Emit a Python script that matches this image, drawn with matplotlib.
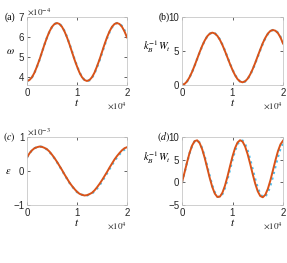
import numpy as np
import matplotlib
matplotlib.use('Agg')
import matplotlib.pyplot as plt

plt.rcParams['font.family'] = 'Liberation Sans'
plt.rcParams['mathtext.fontset'] = 'stix'

# time axis (x 1e4), step 500
t = np.arange(0, 20001, 500) / 1e4

# (a) omega, x 1e-4
omega_fit = [3.80, 3.85, 3.99, 4.22, 4.53, 4.87, 5.25, 5.63, 5.98, 6.28, 6.51, 6.65, 6.70,
             6.65, 6.51, 6.28, 5.98, 5.63, 5.25, 4.87, 4.53, 4.22, 3.99, 3.85, 3.80,
             3.85, 3.99, 4.22, 4.53, 4.87, 5.25, 5.63, 5.98, 6.28, 6.51, 6.65, 6.70,
             6.65, 6.51, 6.28, 5.98]
omega_sim = [3.80, 3.85, 3.98, 4.21, 4.52, 4.86, 5.24, 5.62, 5.97, 6.27, 6.50, 6.65, 6.70,
             6.66, 6.53, 6.30, 6.01, 5.66, 5.28, 4.90, 4.55, 4.24, 4.00, 3.85, 3.80,
             3.83, 3.96, 4.18, 4.48, 4.82, 5.19, 5.57, 5.93, 6.24, 6.48, 6.64, 6.70,
             6.67, 6.55, 6.34, 6.05]

# (b) work / kB
work_fit = [0.00, 0.15, 0.53, 1.15, 1.94, 2.86, 3.85, 4.84, 5.76, 6.55, 7.17, 7.55, 7.70,
            7.58, 7.23, 6.65, 5.89, 5.00, 4.05, 3.09, 2.21, 1.45, 0.86, 0.51, 0.40,
            0.54, 0.93, 1.55, 2.34, 3.26, 4.25, 5.23, 6.16, 6.94, 7.56, 7.95, 8.09,
            7.98, 7.63, 7.00, 6.10]
work_sim = [0.00, 0.15, 0.52, 1.13, 1.91, 2.83, 3.81, 4.80, 5.72, 6.52, 7.15, 7.54, 7.70,
            7.60, 7.27, 6.70, 5.95, 5.07, 4.12, 3.16, 2.27, 1.50, 0.90, 0.53, 0.40,
            0.51, 0.88, 1.48, 2.26, 3.17, 4.15, 5.13, 6.07, 6.87, 7.50, 7.92, 8.09,
            8.01, 7.70, 7.10, 6.25]

# (c) epsilon, x 1e-3
eps_fit = [0.40, 0.52, 0.61, 0.67, 0.70, 0.72, 0.71, 0.68, 0.64, 0.57, 0.48, 0.38, 0.27,
           0.15, 0.03, -0.10, -0.22, -0.34, -0.44, -0.53, -0.61, -0.67, -0.70, -0.72, -0.71,
           -0.68, -0.64, -0.57, -0.48, -0.38, -0.27, -0.15, -0.03, 0.10, 0.22, 0.34, 0.44,
           0.53, 0.61, 0.67, 0.70]
eps_sim = [0.40, 0.52, 0.61, 0.67, 0.70, 0.72, 0.71, 0.68, 0.63, 0.56, 0.47, 0.37, 0.26,
           0.14, 0.02, -0.11, -0.23, -0.35, -0.45, -0.54, -0.62, -0.67, -0.70, -0.71, -0.72,
           -0.69, -0.66, -0.60, -0.52, -0.42, -0.31, -0.19, -0.07, 0.06, 0.18, 0.30, 0.40,
           0.49, 0.57, 0.63, 0.67]

# (d) work / kB
work2_fit = [0.00, 2.16, 4.42, 6.50, 8.12, 9.09, 9.27, 8.64, 7.29, 5.38, 3.16, 0.93, -1.04,
             -2.49, -3.23, -3.16, -2.30, -0.77, 1.26, 3.52, 5.70, 7.54, 8.79, 9.29, 8.98,
             7.90, 6.20, 4.07, 1.81, -0.30, -1.98, -3.02, -3.29, -2.74, -1.45, 0.42, 2.62,
             4.86, 6.87, 8.38, 9.19]
work2_sim = [0.00, 2.12, 4.34, 6.40, 8.03, 9.04, 9.29, 8.76, 7.51, 5.69, 3.55, 1.34, -0.68,
             -2.22, -3.12, -3.26, -2.61, -1.27, 0.61, 2.79, 4.99, 6.94, 8.41, 9.19, 9.21,
             8.45, 7.01, 5.07, 2.88, 0.69, -1.20, -2.57, -3.24, -3.14, -2.27, -0.75, 1.24,
             3.46, 5.61, 7.44, 8.72]

blue = '#4dbeee'
orange = '#d95319'
W, H = 287, 263

fig = plt.figure(figsize=(W / 100, H / 100), dpi=100)


def make_axes(x0, x1, y0, y1):
    return fig.add_axes([x0 / W, 1 - y1 / H, (x1 - x0) / W, (y1 - y0) / H])


# axes, sim, fit, ylim, yticks, tag, y-label, label pos, y exponent
panels = [
    (make_axes(27, 127, 17, 85), omega_sim, omega_fit, (3.6, 7.0), [4, 5, 6, 7],
     '(a)', r'$\omega$', (-0.12, 0.50), r'$\times10^{-4}$'),
    (make_axes(182, 283, 17, 85), work_sim, work_fit, (0, 10), [0, 5, 10],
     '(b)', r'$k_B^{-1}W_t$', (-0.11, 0.56), None),
    (make_axes(27, 127, 137, 205), eps_sim, eps_fit, (-1, 1), [-1, 0, 1],
     r'$(c)$', r'$\varepsilon$', (-0.16, 0.50), r'$\times10^{-3}$'),
    (make_axes(182, 283, 137, 205), work2_sim, work2_fit, (-5, 10), [-5, 0, 5, 10],
     r'$(d)$', r'$k_B^{-1}W_t$', (-0.11, 0.70), None),
]

for ax, sim, fit, ylim, yt, tag, ylab, lpos, yexp in panels:
    ax.plot(t, sim, ':', color=blue, lw=1.6)
    ax.plot(t, fit, '-', color=orange, lw=1.4)
    ax.set_xlim(0, 2)
    ax.set_ylim(*ylim)
    ax.set_xticks([0, 1, 2])
    ax.set_yticks(yt)
    ax.tick_params(direction='in', length=2, width=0.5, labelsize=7,
                   colors='#262626', pad=2, top=True, right=True)
    for s in ax.spines.values():
        s.set_color('#c8c8c8')
        s.set_linewidth(0.6)
    ax.text(0.5, -0.17, r'$t$', transform=ax.transAxes, ha='center', va='top', fontsize=8)
    ax.text(1.0, -0.22, r'$\times10^{4}$', transform=ax.transAxes, ha='right', va='top',
            fontsize=6.5, color='#262626')
    if yexp:
        ax.text(0.0, 1.0, yexp, transform=ax.transAxes, ha='left', va='bottom',
                fontsize=6.5, color='#262626')
    ax.text(lpos[0], lpos[1], ylab, transform=ax.transAxes,
            ha='right', va='center', fontsize=7.5)
    ax.text(-0.12, 1.0, tag, transform=ax.transAxes, ha='right', va='center',
            fontsize=7, family='Liberation Serif')

fig.savefig('out.png', dpi=100)
